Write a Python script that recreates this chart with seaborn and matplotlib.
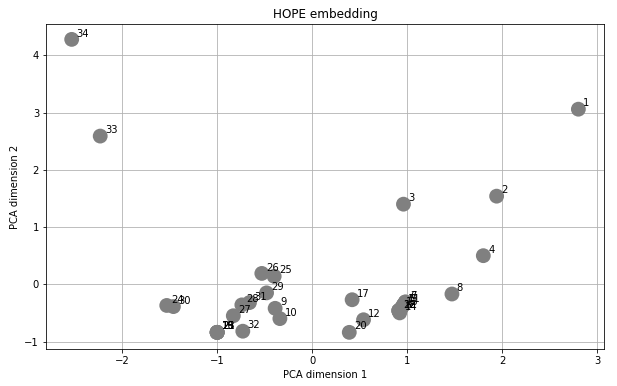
import pandas as pd
import seaborn as sns
import matplotlib
matplotlib.use("Agg")
import matplotlib.pyplot as plt

# node labels and their 2-D PCA coordinates
nodes = [1, 2, 3, 4, 5, 6, 7, 8, 9, 10, 11, 12, 13, 14, 15, 16, 17,
         18, 19, 20, 21, 22, 23, 24, 25, 26, 27, 28, 29, 30, 31, 32, 33, 34]
pca_x = [2.80, 1.94, 0.96, 1.80, 0.96, 0.98, 0.98, 1.47, -0.39, -0.34, 0.96, 0.54, 0.94, 0.92, -1.00, -1.00, 0.42,
         0.91, -1.00, 0.39, -1.00, 0.91, -1.00, -1.53, -0.40, -0.53, -0.83, -0.74, -0.48, -1.46, -0.66, -0.73, -2.23, -2.53]
pca_y = [3.06, 1.54, 1.40, 0.50, -0.36, -0.31, -0.31, -0.17, -0.42, -0.60, -0.36, -0.62, -0.41, -0.50, -0.84, -0.84, -0.27,
         -0.46, -0.84, -0.84, -0.84, -0.46, -0.84, -0.37, 0.14, 0.19, -0.55, -0.36, -0.15, -0.39, -0.32, -0.82, 2.59, 4.28]

df = pd.DataFrame({"node": nodes, "x": pca_x, "y": pca_y})

plt.rcParams["font.family"] = ["DejaVu Sans"]
plt.rcParams["font.size"] = 10

fig = plt.figure(figsize=(617 / 72, 386 / 72), dpi=72)
ax = fig.add_axes([0.0746, 0.096, 0.9044, 0.842])

sns.scatterplot(data=df, x="x", y="y", color="gray", s=220, edgecolor="none",
                alpha=1.0, ax=ax, zorder=3)
for _, r in df.iterrows():
    ax.text(r["x"] + 0.05, r["y"] + 0.05, str(int(r["node"])), fontsize=10, zorder=4)

ax.grid(True, color="#b0b0b0", linewidth=0.8)
ax.set_axisbelow(True)
ax.set_title("HOPE embedding", fontsize=12)
ax.set_xlabel("PCA dimension 1")
ax.set_ylabel("PCA dimension 2")
ax.set_xlim(-2.80, 3.07)
ax.set_ylim(-1.13, 4.55)

fig.savefig("out.png", dpi=72)
